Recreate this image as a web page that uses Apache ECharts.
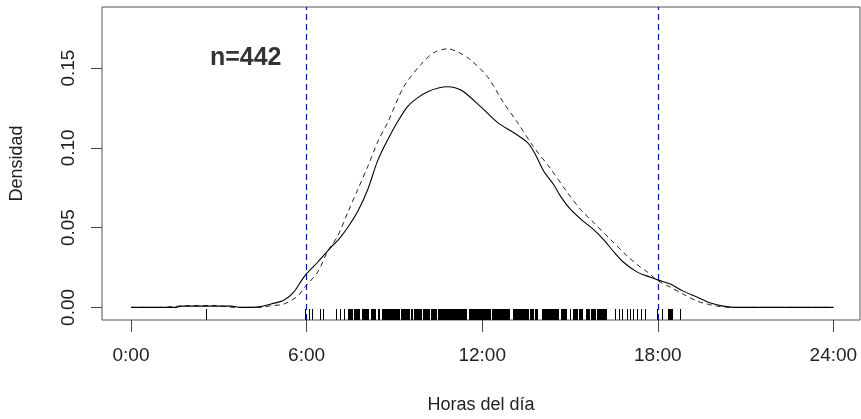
<!DOCTYPE html>
<html>
<head>
<meta charset="utf-8">
<script src="https://cdn.jsdelivr.net/npm/echarts@6/dist/echarts.min.js"></script>
<style>
  html, body { margin: 0; padding: 0; background: #fff; }
  #main { width: 861px; height: 419px; }
</style>
</head>
<body>
<div id="main"></div>
<script>
// density curves (hour of day, density)
var solidHours = [0, 1.54, 1.71, 3.41, 3.75, 4.10, 4.44, 4.78, 5.22, 5.56, 5.94, 6.38, 6.83, 7.10, 7.41, 7.75, 8.09, 8.43, 8.77, 9.10, 9.45, 9.80, 10.14, 10.50, 10.82, 11.10, 11.37, 11.95, 12.53, 13.07, 13.55, 13.80, 14.10, 14.44, 14.68, 15.02, 15.46, 15.80, 16.14, 16.48, 16.83, 17.30, 17.75, 18.02, 18.43, 18.87, 19.35, 19.80, 20.24, 20.48, 20.82, 24];
var solidDens  = [0, 0, 0.0008, 0.0008, 0, 0, 0.0005, 0.0021, 0.0045, 0.0096, 0.0198, 0.0283, 0.0377, 0.0427, 0.0502, 0.0602, 0.0739, 0.0920, 0.1050, 0.1160, 0.1258, 0.1315, 0.1352, 0.1375, 0.1383, 0.1375, 0.1352, 0.1258, 0.1158, 0.1096, 0.1033, 0.0965, 0.0855, 0.0770, 0.0696, 0.0614, 0.0539, 0.0489, 0.0427, 0.0352, 0.0283, 0.0221, 0.0189, 0.0171, 0.0146, 0.0102, 0.0064, 0.0027, 0.0008, 0.0002, 0, 0];

var dashHours = [0, 1.13, 1.37, 1.88, 2.90, 3.24, 3.58, 4.37, 4.78, 5.22, 5.70, 5.94, 6.38, 6.72, 7.06, 7.41, 7.75, 8.09, 8.46, 8.77, 9.32, 9.90, 10.34, 10.82, 11.16, 11.60, 12.18, 12.73, 13.21, 13.75, 14.33, 14.91, 15.36, 15.80, 16.38, 16.96, 17.41, 17.65, 18.02, 18.43, 18.87, 19.35, 19.69, 20.03, 20.48, 24];
var dashDens  = [0, 0, 0.0005, 0.0010, 0.0012, 0.0005, 0, 0, 0.0010, 0.0021, 0.0071, 0.0127, 0.0221, 0.0352, 0.0446, 0.0596, 0.0739, 0.0883, 0.1050, 0.1158, 0.1383, 0.1521, 0.1596, 0.1621, 0.1602, 0.1552, 0.1446, 0.1283, 0.1158, 0.1008, 0.0871, 0.0721, 0.0614, 0.0533, 0.0427, 0.0321, 0.0252, 0.0221, 0.0165, 0.0127, 0.0083, 0.0039, 0.0021, 0.0008, 0, 0];

// rug: single observations and dense runs [from, to]
var rugSingles = [2.56, 5.96, 6.09, 6.18, 6.45, 6.55, 7.00, 7.13, 7.27, 14.99, 16.55, 16.66, 16.79, 16.96, 17.06, 17.17, 17.30, 17.41, 17.58, 17.98, 18.16, 18.75];
var rugRuns = [[7.41, 7.58], [7.63, 7.85], [7.88, 8.12], [8.19, 8.36], [8.43, 8.50], [8.57, 9.18], [9.22, 9.52], [9.56, 9.62], [9.66, 9.93], [9.97, 10.20], [10.24, 10.44], [10.48, 11.47], [11.54, 12.29], [12.32, 12.63], [12.66, 12.97], [13.04, 13.58], [13.62, 13.75], [13.79, 13.89], [14.03, 14.37], [14.40, 14.64], [14.68, 14.88], [15.12, 15.29], [15.32, 15.46], [15.56, 15.70], [15.73, 15.90], [15.94, 16.28], [18.36, 18.53]];

var xTicks = [0, 6, 12, 18, 24];
var yTicks = [0, 0.05, 0.10, 0.15];
var cutLines = [6, 18];
var sampleLabel = 'n=442';

var xMin = -0.99, xMax = 24.91;
var yMin = -0.0079, yMax = 0.1883;

function pairs(xs, ys) {
  return xs.map(function (x, i) { return [x, ys[i]]; });
}

var rugData = rugSingles.map(function (h) { return [h, h]; }).concat(rugRuns);

var font = "'Liberation Sans', Arial, sans-serif";
var chart = echarts.init(document.getElementById('main'));

var option = {
  animation: false,
  grid: {
    left: 101, top: 7, width: 759, height: 314,
    show: true, borderColor: '#555', borderWidth: 1
  },
  xAxis: {
    type: 'value', min: xMin, max: xMax,
    name: 'Horas del día', nameLocation: 'middle', nameGap: 76,
    nameTextStyle: { fontFamily: font, fontSize: 18, color: '#222' },
    axisLine: { show: false, onZero: false },
    splitLine: { show: false },
    axisTick: { show: true, length: 12, customValues: xTicks, lineStyle: { color: '#444' } },
    axisLabel: {
      customValues: xTicks, margin: 26,
      fontFamily: font, fontSize: 19, color: '#222',
      formatter: function (v) { return v + ':00'; }
    }
  },
  yAxis: {
    type: 'value', min: yMin, max: yMax,
    name: 'Densidad', nameLocation: 'middle', nameGap: 76, nameRotate: 90,
    nameTextStyle: { fontFamily: font, fontSize: 18, color: '#222' },
    axisLine: { show: false, onZero: false },
    splitLine: { show: false },
    axisTick: { show: true, length: 11, customValues: yTicks, lineStyle: { color: '#444' } },
    axisLabel: {
      customValues: yTicks, margin: 24, rotate: 90,
      fontFamily: font, fontSize: 19, color: '#222',
      formatter: function (v) { return v.toFixed(2); }
    }
  },
  series: [
    {
      type: 'line', data: pairs(dashHours, dashDens), showSymbol: false, smooth: 0.3,
      lineStyle: { color: '#222', width: 1, type: [5, 4] },
      markLine: {
        silent: true, symbol: 'none', label: { show: false },
        lineStyle: { color: '#0000ff', width: 1.2, type: [6, 4] },
        data: cutLines.map(function (h) { return { xAxis: h }; })
      }
    },
    {
      type: 'line', data: pairs(solidHours, solidDens), showSymbol: false, smooth: 0.3,
      lineStyle: { color: '#000', width: 1.1, type: 'solid' }
    },
    {
      type: 'custom',
      data: rugData,
      renderItem: function (params, api) {
        var a = api.coord([api.value(0), yMin]);
        var b = api.coord([api.value(1), yMin]);
        var w = Math.max(1, b[0] - a[0]);
        return {
          type: 'rect',
          shape: { x: Math.round(a[0]), y: a[1] - 11, width: Math.round(w), height: 11 },
          style: { fill: '#000' }
        };
      }
    },
    {
      type: 'scatter', symbolSize: 0,
      data: [[3.92, 0.156]],
      label: {
        show: true, position: 'inside', formatter: sampleLabel,
        fontFamily: font, fontSize: 25, fontWeight: 'bold', color: '#000'
      }
    }
  ]
};

chart.setOption(option);
</script>
</body>
</html>
